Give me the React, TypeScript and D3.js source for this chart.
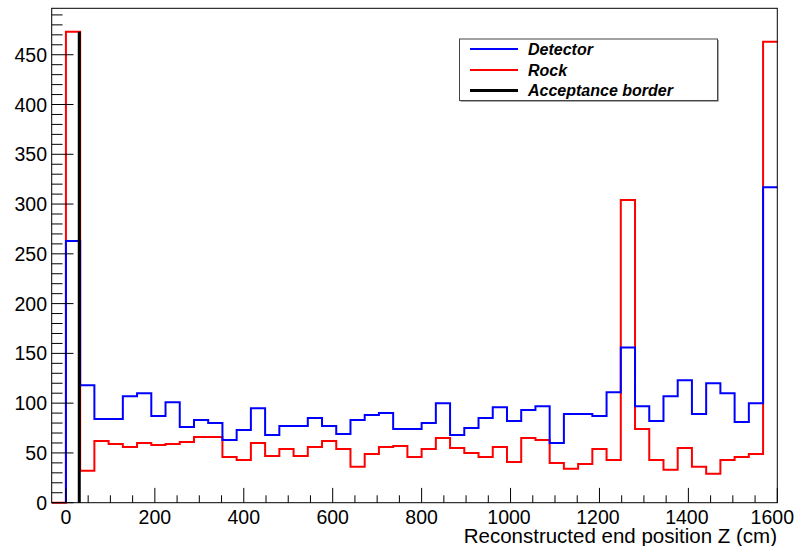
import React from "react";
import * as d3 from "d3";

const binStart = -32;
const binWidth = 32;
const detector = [0, 263, 118, 84, 84, 107, 110, 87, 101, 76, 83, 80, 63, 73, 95, 68, 77, 77, 85, 77, 69, 83, 88, 90, 74, 74, 80, 100, 68, 75, 85, 96, 82, 93, 97, 60, 89, 89, 87, 111, 156, 97, 82, 107, 123, 89, 120, 110, 81, 100, 317];
const rock = [0, 473, 32, 62, 59, 56, 60, 58, 59, 61, 66, 66, 46, 43, 60, 47, 54, 47, 56, 62, 54, 36, 49, 56, 57, 46, 54, 65, 55, 50, 46, 56, 41, 65, 63, 40, 34, 39, 54, 43, 304, 74, 43, 33, 55, 36, 29, 43, 46, 49, 463];
const acceptanceBorder = 30;
const xMajorTicks = [0, 200, 400, 600, 800, 1000, 1200, 1400, 1600];
const yMajorTicks = [0, 50, 100, 150, 200, 250, 300, 350, 400, 450];
const legendLabels = ["Detector", "Rock", "Acceptance border"];
const xTitle = "Reconstructed end position Z (cm)";

const W = 801;
const H = 546;
const left = 51.7;
const right = 777.3;
const top = 8.3;
const bottom = 502.7;

export default function App() {
  const xMax = binStart + binWidth * rock.length;
  const yMax = d3.max(rock)! * 1.05;
  const x = d3.scaleLinear().domain([binStart, xMax]).range([left, right]);
  const y = d3.scaleLinear().domain([0, yMax]).range([bottom, top]);

  const stepPath = (vals: number[], startIdx: number) => {
    const p = d3.path();
    let prev = 0;
    for (let i = startIdx; i < vals.length; i++) {
      const x0 = x(binStart + i * binWidth);
      const x1 = x(binStart + (i + 1) * binWidth);
      if (i === startIdx) p.moveTo(x0, y(prev));
      p.lineTo(x0, y(vals[i]));
      p.lineTo(x1, y(vals[i]));
      prev = vals[i];
    }
    return p.toString();
  };

  const xMinor = d3.range(0, xMax + 1, 50).filter((v) => v % 200 !== 0);
  const yMinor = d3.range(0, yMax, 10).filter((v) => v % 50 !== 0);
  const font = "'Liberation Sans', Arial, Helvetica, sans-serif";

  const legX = 459.5;
  const legY = 39;
  const legW = 258;
  const legH = 61.5;
  const legColors = ["#0000ff", "#ff0000", "#000000"];
  const legWidths = [2, 2, 3];
  const legRows = [49, 70, 90.5];

  return (
    <svg width={W} height={H} style={{ position: "fixed", left: 0, top: 0, background: "#fff" }}>
      <rect x={0} y={0} width={W} height={H} fill="#fff" />
      {/* histograms */}
      <path d={stepPath(rock, 0)} fill="none" stroke="#ff0000" strokeWidth={2} />
      <path d={stepPath(detector, 1)} fill="none" stroke="#0000ff" strokeWidth={2} />
      <line x1={x(acceptanceBorder)} x2={x(acceptanceBorder)} y1={y(0)} y2={y(d3.max(rock)!)} stroke="#000" strokeWidth={3} />
      {/* frame */}
      <rect x={left} y={top} width={right - left} height={bottom - top} fill="none" stroke="#000" strokeWidth={1} />
      {/* x ticks */}
      {xMajorTicks.map((t) => (
        <line key={"xm" + t} x1={x(t)} x2={x(t)} y1={bottom} y2={bottom - 14.8} stroke="#000" strokeWidth={1} />
      ))}
      {xMinor.map((t) => (
        <line key={"xn" + t} x1={x(t)} x2={x(t)} y1={bottom} y2={bottom - 7.4} stroke="#000" strokeWidth={1} />
      ))}
      {xMajorTicks.map((t, i) => (
        <text key={"xl" + t} x={x(t) - (i === xMajorTicks.length - 1 ? 5 : t >= 1000 ? 1.5 : 0)} y={524} textAnchor="middle" fontFamily={font} fontSize={19.5} fill="#000">
          {t}
        </text>
      ))}
      {/* y ticks */}
      {yMajorTicks.map((t) => (
        <line key={"ym" + t} x1={left} x2={left + 21.8} y1={y(t)} y2={y(t)} stroke="#000" strokeWidth={1} />
      ))}
      {yMinor.map((t) => (
        <line key={"yn" + t} x1={left} x2={left + 10.9} y1={y(t)} y2={y(t)} stroke="#000" strokeWidth={1} />
      ))}
      {yMajorTicks.map((t) => (
        <text key={"yl" + t} x={47} y={y(t) + 7} textAnchor="end" fontFamily={font} fontSize={19.5} fill="#000">
          {t}
        </text>
      ))}
      <text x={777} y={543} textAnchor="end" fontFamily={font} fontSize={20.5} fill="#000">
        {xTitle}
      </text>
      {/* legend */}
      <rect x={legX + 1} y={legY + 1} width={legW} height={legH} fill="#555" />
      <rect x={legX} y={legY} width={legW} height={legH} fill="#fff" stroke="#444" strokeWidth={1} />
      {legendLabels.map((lab, i) => (
        <g key={lab}>
          <line x1={470} x2={518} y1={legRows[i]} y2={legRows[i]} stroke={legColors[i]} strokeWidth={legWidths[i]} />
          <text x={528} y={legRows[i] + 5.5} fontFamily={font} fontSize={16} fontWeight="bold" fontStyle="italic" fill="#000">
            {lab}
          </text>
        </g>
      ))}
    </svg>
  );
}
